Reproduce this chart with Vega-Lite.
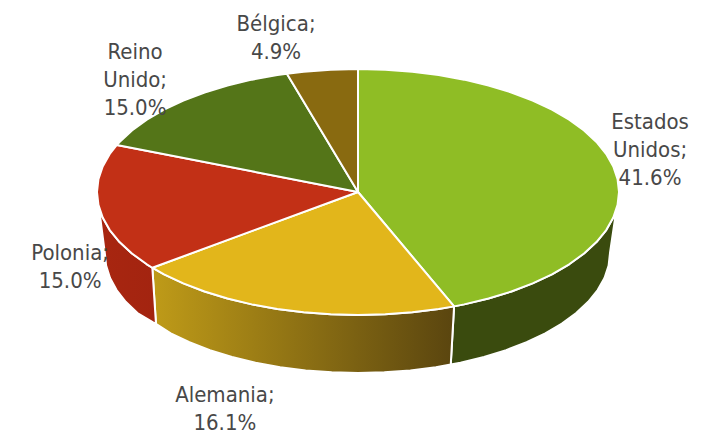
{"$schema":"https://vega.github.io/schema/vega-lite/v6.json","width":705,"height":432,"padding":0,"autosize":"none","background":"white","config":{"view":{"stroke":null}},
"datasets":{
"estados":[{"i":0,"x":0,"y":0},{"i":1,"x":0,"y":100},{"i":2,"x":10.45,"y":99.45},{"i":3,"x":20.79,"y":97.81},{"i":4,"x":30.9,"y":95.11},{"i":5,"x":40.67,"y":91.35},{"i":6,"x":50,"y":86.6},{"i":7,"x":58.78,"y":80.9},{"i":8,"x":66.91,"y":74.31},{"i":9,"x":74.31,"y":66.91},{"i":10,"x":80.9,"y":58.78},{"i":11,"x":86.6,"y":50},{"i":12,"x":91.35,"y":40.67},{"i":13,"x":95.11,"y":30.9},{"i":14,"x":97.81,"y":20.79},{"i":15,"x":99.45,"y":10.45},{"i":16,"x":100,"y":0},{"i":17,"x":99.45,"y":-10.45},{"i":18,"x":97.81,"y":-20.79},{"i":19,"x":95.11,"y":-30.9},{"i":20,"x":91.35,"y":-40.67},{"i":21,"x":86.6,"y":-50},{"i":22,"x":80.9,"y":-58.78},{"i":23,"x":74.31,"y":-66.91},{"i":24,"x":66.91,"y":-74.31},{"i":25,"x":58.78,"y":-80.9},{"i":26,"x":50,"y":-86.6},{"i":27,"x":40.67,"y":-91.35},{"i":28,"x":36.81,"y":-92.98},{"i":29,"x":0,"y":0}],
"alemania":[{"i":0,"x":0,"y":0},{"i":1,"x":36.81,"y":-92.98},{"i":2,"x":30.9,"y":-95.11},{"i":3,"x":20.79,"y":-97.81},{"i":4,"x":10.45,"y":-99.45},{"i":5,"x":0,"y":-100},{"i":6,"x":-10.45,"y":-99.45},{"i":7,"x":-20.79,"y":-97.81},{"i":8,"x":-30.9,"y":-95.11},{"i":9,"x":-40.67,"y":-91.35},{"i":10,"x":-50,"y":-86.6},{"i":11,"x":-58.78,"y":-80.9},{"i":12,"x":-66.91,"y":-74.31},{"i":13,"x":-74.31,"y":-66.91},{"i":14,"x":-78.8,"y":-61.57},{"i":15,"x":0,"y":0}],
"polonia":[{"i":0,"x":0,"y":0},{"i":1,"x":-78.8,"y":-61.57},{"i":2,"x":-80.9,"y":-58.78},{"i":3,"x":-86.6,"y":-50},{"i":4,"x":-91.35,"y":-40.67},{"i":5,"x":-95.11,"y":-30.9},{"i":6,"x":-97.81,"y":-20.79},{"i":7,"x":-99.45,"y":-10.45},{"i":8,"x":-100,"y":0},{"i":9,"x":-99.45,"y":10.45},{"i":10,"x":-97.81,"y":20.79},{"i":11,"x":-95.11,"y":30.9},{"i":12,"x":-92.39,"y":38.27},{"i":13,"x":0,"y":0}],
"reino":[{"i":0,"x":0,"y":0},{"i":1,"x":-92.39,"y":38.27},{"i":2,"x":-91.35,"y":40.67},{"i":3,"x":-86.6,"y":50},{"i":4,"x":-80.9,"y":58.78},{"i":5,"x":-74.31,"y":66.91},{"i":6,"x":-66.91,"y":74.31},{"i":7,"x":-58.78,"y":80.9},{"i":8,"x":-50,"y":86.6},{"i":9,"x":-40.67,"y":91.35},{"i":10,"x":-30.9,"y":95.11},{"i":11,"x":-27.23,"y":96.22},{"i":12,"x":0,"y":0}],
"belgica":[{"i":0,"x":0,"y":0},{"i":1,"x":-27.23,"y":96.22},{"i":2,"x":-20.79,"y":97.81},{"i":3,"x":-10.45,"y":99.45},{"i":4,"x":0,"y":100},{"i":5,"x":0,"y":0}],
"wallGreen":[{"i":0,"x":100,"y":0},{"i":1,"x":99.45,"y":-10.45},{"i":2,"x":97.81,"y":-20.79},{"i":3,"x":95.11,"y":-30.9},{"i":4,"x":91.35,"y":-40.67},{"i":5,"x":86.6,"y":-50},{"i":6,"x":80.9,"y":-58.78},{"i":7,"x":74.31,"y":-66.91},{"i":8,"x":66.91,"y":-74.31},{"i":9,"x":58.78,"y":-80.9},{"i":10,"x":50,"y":-86.6},{"i":11,"x":40.67,"y":-91.35},{"i":12,"x":36.81,"y":-92.98},{"i":13,"x":35.54,"y":-140.31},{"i":14,"x":39.27,"y":-138.72},{"i":15,"x":48.28,"y":-134.09},{"i":16,"x":56.75,"y":-128.53},{"i":17,"x":64.6,"y":-122.1},{"i":18,"x":71.75,"y":-114.88},{"i":19,"x":78.11,"y":-106.95},{"i":20,"x":83.61,"y":-98.38},{"i":21,"x":88.2,"y":-89.28},{"i":22,"x":91.83,"y":-79.75},{"i":23,"x":94.44,"y":-69.88},{"i":24,"x":96.02,"y":-59.79},{"i":25,"x":96.55,"y":-49.6},{"i":26,"x":100,"y":0}],
"wallYellow":[{"i":0,"x":36.81,"y":-92.98},{"i":1,"x":30.9,"y":-95.11},{"i":2,"x":20.79,"y":-97.81},{"i":3,"x":10.45,"y":-99.45},{"i":4,"x":0,"y":-100},{"i":5,"x":-10.45,"y":-99.45},{"i":6,"x":-20.79,"y":-97.81},{"i":7,"x":-30.9,"y":-95.11},{"i":8,"x":-40.67,"y":-91.35},{"i":9,"x":-50,"y":-86.6},{"i":10,"x":-58.78,"y":-80.9},{"i":11,"x":-66.91,"y":-74.31},{"i":12,"x":-74.31,"y":-66.91},{"i":13,"x":-78.8,"y":-61.57},{"i":14,"x":-77.4,"y":-107.2},{"i":15,"x":-71.75,"y":-114.88},{"i":16,"x":-64.6,"y":-122.1},{"i":17,"x":-56.75,"y":-128.53},{"i":18,"x":-48.28,"y":-134.09},{"i":19,"x":-39.27,"y":-138.72},{"i":20,"x":-29.83,"y":-142.39},{"i":21,"x":-20.07,"y":-145.02},{"i":22,"x":-10.09,"y":-146.62},{"i":23,"x":0,"y":-147.16},{"i":24,"x":10.09,"y":-146.62},{"i":25,"x":20.07,"y":-145.02},{"i":26,"x":29.83,"y":-142.39},{"i":27,"x":35.54,"y":-140.31},{"i":28,"x":36.81,"y":-92.98}],
"wallRed":[{"i":0,"x":-78.8,"y":-61.57},{"i":1,"x":-80.9,"y":-58.78},{"i":2,"x":-86.6,"y":-50},{"i":3,"x":-91.35,"y":-40.67},{"i":4,"x":-95.11,"y":-30.9},{"i":5,"x":-97.81,"y":-20.79},{"i":6,"x":-99.45,"y":-10.45},{"i":7,"x":-100,"y":0},{"i":8,"x":-97,"y":-49.6},{"i":9,"x":-96.5,"y":-59.79},{"i":10,"x":-95,"y":-69.88},{"i":11,"x":-92.5,"y":-79.75},{"i":12,"x":-89,"y":-89.28},{"i":13,"x":-84.5,"y":-98.38},{"i":14,"x":-78.5,"y":-106},{"i":15,"x":-77.4,"y":-107.2},{"i":16,"x":-78.8,"y":-61.57}],
"labels":[{"label":"Estados\nUnidos;\n41.6%","share":41.6,"x":111.9,"y":56.9},{"label":"Alemania;\n16.1%","share":16.1,"x":-51,"y":-165},{"label":"Polonia;\n15.0%","share":15,"x":-110.3,"y":-49.6},{"label":"Reino\nUnido;\n15.0%","share":15,"x":-85.4,"y":113.8},{"label":"Bélgica;\n4.9%","share":4.9,"x":-31.4,"y":136.6}]
},
"encoding":{
"x":{"field":"x","type":"quantitative","axis":null,"scale":{"domain":[-137.16,132.95],"nice":false,"zero":false}},
"y":{"field":"y","type":"quantitative","axis":null,"scale":{"domain":[-195.12,156.1],"nice":false,"zero":false}},
"order":{"field":"i","type":"quantitative"}
},
"layer":[
{"data":{"name":"wallGreen"},"mark":{"type":"line","fill":"#3A4B0E","stroke":"white","strokeWidth":2,"strokeJoin":"round"}},
{"data":{"name":"wallYellow"},"mark":{"type":"line","stroke":"white","strokeWidth":2,"strokeJoin":"round","fill":{"gradient":"linear","x1":0,"y1":0,"x2":1,"y2":0,"stops":[{"offset":0,"color":"#BF9B18"},{"offset":1,"color":"#5A450F"}]}}},
{"data":{"name":"wallRed"},"mark":{"type":"line","stroke":"white","strokeWidth":2,"strokeJoin":"round","fill":{"gradient":"linear","x1":0,"y1":0,"x2":1,"y2":0,"stops":[{"offset":0,"color":"#A82610"},{"offset":1,"color":"#A32410"}]}}},
{"data":{"name":"estados"},"mark":{"type":"line","fill":"#8FBD25","stroke":"white","strokeWidth":2,"strokeJoin":"round"}},
{"data":{"name":"alemania"},"mark":{"type":"line","fill":"#E2B61B","stroke":"white","strokeWidth":2,"strokeJoin":"round"}},
{"data":{"name":"polonia"},"mark":{"type":"line","fill":"#C23016","stroke":"white","strokeWidth":2,"strokeJoin":"round"}},
{"data":{"name":"reino"},"mark":{"type":"line","fill":"#547518","stroke":"white","strokeWidth":2,"strokeJoin":"round"}},
{"data":{"name":"belgica"},"mark":{"type":"line","fill":"#896A10","stroke":"white","strokeWidth":2,"strokeJoin":"round"}},
{"data":{"name":"labels"},"mark":{"type":"text","font":"DejaVu Sans Condensed, DejaVu Sans","fontSize":22,"color":"#484848","align":"center","baseline":"middle","lineBreak":"\n","lineHeight":28},"encoding":{"text":{"field":"label","type":"nominal"},"order":null}}
]}
